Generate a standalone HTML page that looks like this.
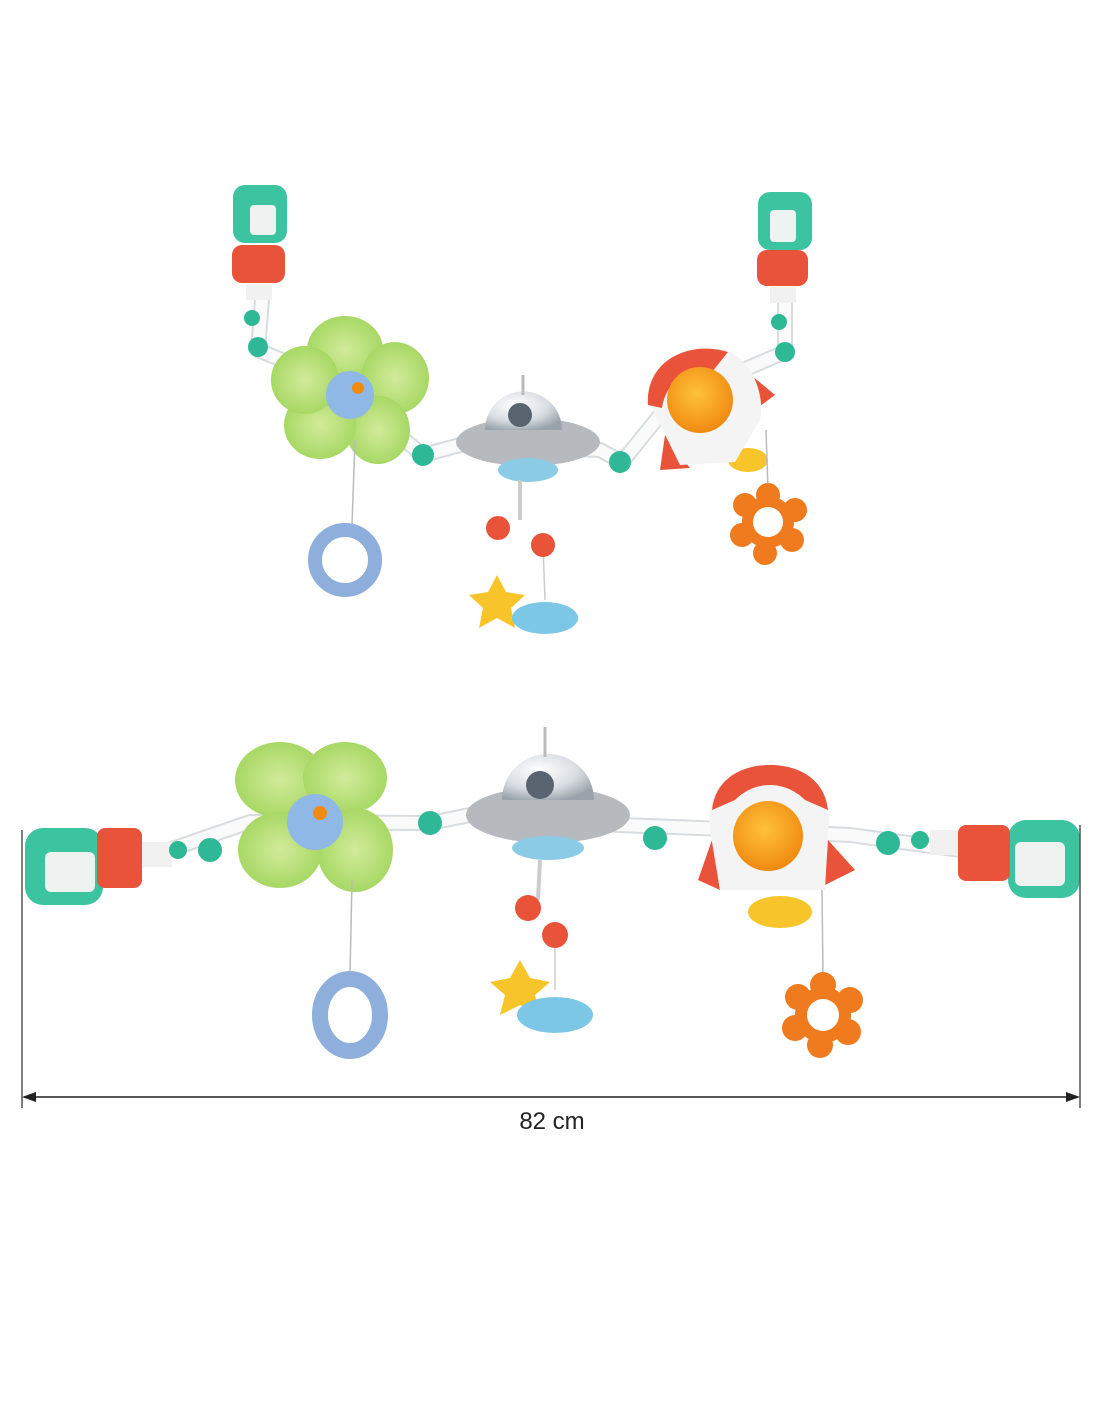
<!DOCTYPE html>
<html><head><meta charset="utf-8"><style>
html,body{margin:0;padding:0;background:#fff;}
svg{display:block}
</style></head><body>
<svg width="1100" height="1422" viewBox="0 0 1100 1422" xmlns="http://www.w3.org/2000/svg">
<defs>
<radialGradient id="dome" cx="40%" cy="35%" r="70%"><stop offset="0" stop-color="#ffffff"/><stop offset="0.6" stop-color="#d8dde2"/><stop offset="1" stop-color="#9aa3ab"/></radialGradient>
<radialGradient id="orng" cx="45%" cy="40%" r="60%"><stop offset="0" stop-color="#ffc23a"/><stop offset="1" stop-color="#f08a10"/></radialGradient>
<radialGradient id="grn" cx="50%" cy="50%" r="60%"><stop offset="0" stop-color="#d2eb9a"/><stop offset="1" stop-color="#9fd45a"/></radialGradient>
</defs>

<!-- ============ TOP TOY ============ -->
<polyline points="262,300 258,350 330,380 423,455 460,445 600,450 622,462 660,415 720,380 785,352 785,300" fill="none" stroke="#d9dcdf" stroke-width="16" stroke-linejoin="round" stroke-linecap="round"/>
<polyline points="262,300 258,350 330,380 423,455 460,445 600,450 622,462 660,415 720,380 785,352 785,300" fill="none" stroke="#fafafa" stroke-width="12" stroke-linejoin="round" stroke-linecap="round"/>
<rect x="233" y="185" width="54" height="58" rx="12" fill="#3cc4a0"/>
<rect x="250" y="205" width="26" height="30" rx="4" fill="#eef3f1"/>
<rect x="232" y="245" width="53" height="38" rx="10" fill="#e8533a"/>
<rect x="246" y="284" width="26" height="16" fill="#f1f1f1"/>
<circle cx="252" cy="318" r="8" fill="#2fb896"/>
<circle cx="258" cy="347" r="10" fill="#2fb896"/>
<rect x="758" y="192" width="54" height="58" rx="12" fill="#3cc4a0"/>
<rect x="770" y="210" width="26" height="32" rx="4" fill="#eef3f1"/>
<rect x="757" y="250" width="51" height="36" rx="10" fill="#e8533a"/>
<rect x="770" y="287" width="26" height="16" fill="#f1f1f1"/>
<circle cx="779" cy="322" r="8" fill="#2fb896"/>
<circle cx="785" cy="352" r="10" fill="#2fb896"/>
<circle cx="423" cy="455" r="11" fill="#2fb896"/>
<circle cx="620" cy="462" r="11" fill="#2fb896"/>
<g fill="url(#grn)">
<ellipse cx="345" cy="350" rx="38" ry="34"/>
<ellipse cx="395" cy="378" rx="34" ry="36"/>
<ellipse cx="378" cy="430" rx="32" ry="34"/>
<ellipse cx="320" cy="425" rx="36" ry="34"/>
<ellipse cx="305" cy="380" rx="34" ry="34"/>
</g>
<circle cx="350" cy="395" r="24" fill="#8fb8e6"/>
<circle cx="358" cy="388" r="6" fill="#f08a10"/>
<line x1="355" y1="440" x2="352" y2="525" stroke="#bbb" stroke-width="1.5"/>
<circle cx="345" cy="560" r="30" fill="none" stroke="#8eaedc" stroke-width="14"/>
<ellipse cx="528" cy="442" rx="72" ry="24" fill="#b6babf"/>
<path d="M485,430 A38,38 0 0 1 562,430 Z" fill="url(#dome)"/>
<circle cx="520" cy="415" r="12" fill="#5a6470"/>
<ellipse cx="528" cy="470" rx="30" ry="12" fill="#8ccbe6"/>
<line x1="523" y1="375" x2="523" y2="395" stroke="#bbb" stroke-width="3"/>
<line x1="520" y1="480" x2="520" y2="520" stroke="#ccc" stroke-width="4"/>
<line x1="543" y1="545" x2="545" y2="600" stroke="#ccc" stroke-width="1.5"/>
<circle cx="498" cy="528" r="12" fill="#e8533a"/>
<circle cx="543" cy="545" r="12" fill="#e8533a"/>
<polygon points="497,575 506,592 525,595 511,608 515,628 497,618 479,628 483,608 469,595 488,592" fill="#f7c52a"/>
<ellipse cx="545" cy="618" rx="33" ry="16" fill="#7cc6e6"/>
<!-- rocket -->
<polygon points="665,435 660,470 690,468" fill="#e8533a"/>
<polygon points="745,370 775,395 752,412" fill="#e8533a"/>
<ellipse cx="748" cy="460" rx="20" ry="12" fill="#f7c52a"/>
<path d="M648,400 C648,360 690,340 725,350 C755,360 765,400 760,420 L735,462 L680,465 Z" fill="#f4f4f4"/>
<path d="M648,405 C645,360 690,340 728,352 L712,372 C685,365 665,385 662,408 Z" fill="#e8533a"/>
<circle cx="700" cy="400" r="33" fill="url(#orng)"/>
<line x1="766" y1="430" x2="768" y2="490" stroke="#bbb" stroke-width="1.5"/>
<g fill="#f07a1e">
<circle cx="768" cy="495" r="12"/><circle cx="795" cy="510" r="12"/><circle cx="792" cy="540" r="12"/>
<circle cx="765" cy="553" r="12"/><circle cx="742" cy="535" r="12"/><circle cx="745" cy="505" r="12"/>
<circle cx="768" cy="522" r="26"/>
</g>
<circle cx="768" cy="522" r="15" fill="#fff"/>

<!-- ============ BOTTOM TOY ============ -->
<polyline points="140,860 250,822 430,823 470,815 620,825 700,828 850,835 960,850" fill="none" stroke="#d9dcdf" stroke-width="16" stroke-linejoin="round" stroke-linecap="round"/>
<polyline points="140,860 250,822 430,823 470,815 620,825 700,828 850,835 960,850" fill="none" stroke="#fafafa" stroke-width="12" stroke-linejoin="round" stroke-linecap="round"/>
<rect x="25" y="828" width="78" height="77" rx="18" fill="#3cc4a0"/>
<rect x="45" y="852" width="50" height="40" rx="6" fill="#eef3f1"/>
<rect x="97" y="828" width="45" height="60" rx="8" fill="#e8533a"/>
<rect x="142" y="842" width="30" height="25" fill="#f1f1f1"/>
<circle cx="178" cy="850" r="9" fill="#2fb896"/>
<circle cx="210" cy="850" r="12" fill="#2fb896"/>
<rect x="1008" y="820" width="72" height="78" rx="18" fill="#3cc4a0"/>
<rect x="1015" y="842" width="50" height="44" rx="6" fill="#eef3f1"/>
<rect x="958" y="825" width="52" height="56" rx="8" fill="#e8533a"/>
<rect x="930" y="830" width="28" height="25" fill="#f1f1f1"/>
<circle cx="920" cy="840" r="9" fill="#2fb896"/>
<circle cx="888" cy="843" r="12" fill="#2fb896"/>
<circle cx="430" cy="823" r="12" fill="#2fb896"/>
<circle cx="655" cy="838" r="12" fill="#2fb896"/>
<g fill="url(#grn)">
<ellipse cx="280" cy="780" rx="45" ry="38"/>
<ellipse cx="345" cy="778" rx="42" ry="36"/>
<ellipse cx="355" cy="850" rx="38" ry="42"/>
<ellipse cx="280" cy="850" rx="42" ry="38"/>
</g>
<circle cx="315" cy="822" r="28" fill="#8fb8e6"/>
<circle cx="320" cy="813" r="7" fill="#f08a10"/>
<line x1="352" y1="880" x2="350" y2="975" stroke="#bbb" stroke-width="1.5"/>
<ellipse cx="350" cy="1015" rx="30" ry="36" fill="none" stroke="#8eaedc" stroke-width="16"/>
<ellipse cx="548" cy="815" rx="82" ry="28" fill="#b6babf"/>
<path d="M502,800 A46,46 0 0 1 594,800 Z" fill="url(#dome)"/>
<circle cx="540" cy="785" r="14" fill="#5a6470"/>
<ellipse cx="548" cy="848" rx="36" ry="12" fill="#8ccbe6"/>
<line x1="545" y1="727" x2="545" y2="757" stroke="#bbb" stroke-width="3"/>
<line x1="540" y1="860" x2="538" y2="900" stroke="#ccc" stroke-width="4"/>
<line x1="555" y1="935" x2="555" y2="990" stroke="#ccc" stroke-width="1.5"/>
<circle cx="528" cy="908" r="13" fill="#e8533a"/>
<circle cx="555" cy="935" r="13" fill="#e8533a"/>
<polygon points="520,960 530,978 550,982 535,995 540,1015 520,1005 500,1015 505,995 490,982 510,978" fill="#f7c52a"/>
<ellipse cx="555" cy="1015" rx="38" ry="18" fill="#7cc6e6"/>
<polygon points="712,840 698,880 720,890" fill="#e8533a"/>
<polygon points="828,840 855,870 825,885" fill="#e8533a"/>
<ellipse cx="780" cy="912" rx="32" ry="16" fill="#f7c52a"/>
<path d="M710,830 C705,790 730,765 770,765 C815,765 835,800 828,830 L825,890 L720,890 Z" fill="#f4f4f4"/>
<path d="M712,810 C715,780 740,765 770,765 C800,765 825,780 828,810 L805,800 C785,780 755,780 735,800 Z" fill="#e8533a"/>
<circle cx="768" cy="836" r="35" fill="url(#orng)"/>
<line x1="822" y1="890" x2="823" y2="975" stroke="#bbb" stroke-width="1.5"/>
<g fill="#f07a1e">
<circle cx="823" cy="985" r="13"/><circle cx="850" cy="1000" r="13"/><circle cx="848" cy="1032" r="13"/>
<circle cx="820" cy="1045" r="13"/><circle cx="795" cy="1028" r="13"/><circle cx="798" cy="997" r="13"/>
<circle cx="823" cy="1015" r="28"/>
</g>
<circle cx="823" cy="1015" r="16" fill="#fff"/>

<line x1="22" y1="830" x2="22" y2="1108" stroke="#555" stroke-width="1.5"/>
<line x1="1080" y1="825" x2="1080" y2="1108" stroke="#555" stroke-width="1.5"/>
<line x1="24" y1="1097" x2="1078" y2="1097" stroke="#222" stroke-width="1.5"/>
<polygon points="22,1097 36,1092 36,1102" fill="#222"/>
<polygon points="1080,1097 1066,1092 1066,1102" fill="#222"/>
<text x="552" y="1129" font-family="Liberation Sans, sans-serif" font-size="24" text-anchor="middle" fill="#222">82 cm</text>
</svg>
</body></html>
